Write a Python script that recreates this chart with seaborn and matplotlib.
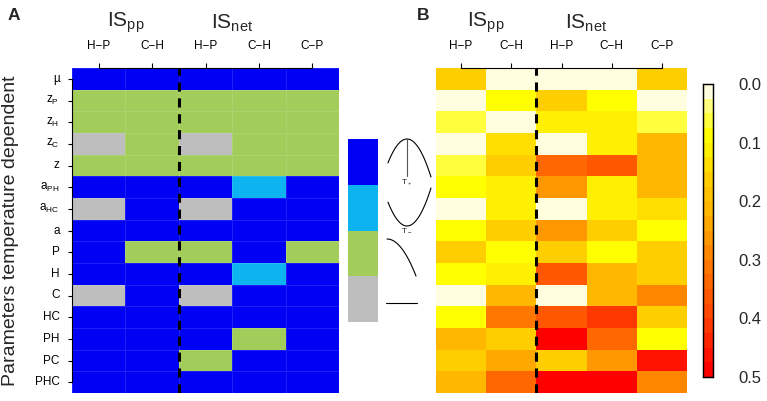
import numpy as np
import pandas as pd
import matplotlib
matplotlib.use("Agg")
import matplotlib.pyplot as plt
from matplotlib.colors import ListedColormap, LinearSegmentedColormap
import seaborn as sns

sns.set_style("white")
plt.rcParams['font.family'] = ['Liberation Sans', 'DejaVu Sans']
plt.rcParams['mathtext.fontset'] = 'custom'
plt.rcParams['mathtext.rm'] = 'Liberation Sans'

# === Data ===
params = ['µ', r'$\mathrm{z_P}$', r'$\mathrm{z_H}$', r'$\mathrm{z_C}$', 'z',
          r'$\mathrm{a_{PH}}$', r'$\mathrm{a_{HC}}$', 'a', 'P', 'H', 'C',
          'HC', 'PH', 'PC', 'PHC']
pairs = ['H\u2212P', 'C\u2212H', 'H\u2212P', 'C\u2212H', 'C\u2212P']
groups = [r'$\mathrm{IS_{pp}}$', r'$\mathrm{IS_{net}}$']

# response type: 0 = hump (T+), 1 = U (T-), 2 = decreasing, 3 = constant
response = [
    [0, 0, 0, 0, 0],
    [2, 2, 2, 2, 2],
    [2, 2, 2, 2, 2],
    [3, 2, 3, 2, 2],
    [2, 2, 2, 2, 2],
    [0, 0, 0, 1, 0],
    [3, 0, 3, 0, 0],
    [0, 0, 0, 0, 0],
    [0, 2, 2, 0, 2],
    [0, 0, 0, 1, 0],
    [3, 0, 3, 0, 0],
    [0, 0, 0, 0, 0],
    [0, 0, 0, 2, 0],
    [0, 0, 2, 0, 0],
    [0, 0, 0, 0, 0],
]

sensitivity = [
    [0.15, 0.00, 0.00, 0.00, 0.15],
    [0.01, 0.08, 0.15, 0.09, 0.01],
    [0.05, 0.01, 0.12, 0.12, 0.05],
    [0.01, 0.13, 0.01, 0.12, 0.20],
    [0.05, 0.15, 0.33, 0.37, 0.20],
    [0.09, 0.10, 0.25, 0.10, 0.22],
    [0.01, 0.10, 0.01, 0.10, 0.13],
    [0.09, 0.15, 0.25, 0.15, 0.08],
    [0.17, 0.08, 0.15, 0.08, 0.15],
    [0.08, 0.10, 0.37, 0.20, 0.15],
    [0.01, 0.21, 0.01, 0.20, 0.29],
    [0.08, 0.30, 0.37, 0.42, 0.15],
    [0.21, 0.15, 0.50, 0.33, 0.08],
    [0.15, 0.24, 0.15, 0.25, 0.45],
    [0.20, 0.33, 0.50, 0.48, 0.29],
]

cbar_ticks = [0.0, 0.1, 0.2, 0.3, 0.4, 0.5]

type_colors = ['#0000F5', '#0DB3EE', '#A3CD5A', '#BEBEBE']
type_cmap = ListedColormap(type_colors)
heat_cmap = LinearSegmentedColormap.from_list(
    'heat', [(0.0, '#FFFFE0'), (0.06, '#FFFF70'), (0.16, '#FFFF00'),
             (0.30, '#FFD200'), (0.45, '#FFB000'), (0.60, '#FF8000'),
             (0.80, '#FF4600'), (1.0, '#FF0000')], N=20)

df_a = pd.DataFrame(response, index=params, columns=range(5))
df_b = pd.DataFrame(sensitivity, index=params, columns=range(5))

W, H = 767, 401
fig = plt.figure(figsize=(W / 100, H / 100), dpi=100)


def px_axes(x0, y0, x1, y1):
    return fig.add_axes([x0 / W, 1 - y1 / H, (x1 - x0) / W, (y1 - y0) / H])


def style_top(ax, label_left):
    ax.xaxis.tick_top()
    ax.set_xticks(np.arange(5) + 0.5)
    ax.set_xticklabels(pairs, fontsize=8.5, rotation=0)
    ax.tick_params(axis='x', length=3.5, width=0.8, pad=8, colors='black')
    ax.spines['top'].set_visible(True)
    ax.spines['top'].set_bounds(0.5, 4.5)
    ax.spines['top'].set_linewidth(0.8)
    ax.spines['top'].set_color('black')
    for s in ['right', 'bottom']:
        ax.spines[s].set_visible(False)
    if label_left:
        ax.spines['left'].set_visible(True)
        ax.spines['left'].set_bounds(0.5, 14.5)
        ax.spines['left'].set_linewidth(0.8)
        ax.spines['left'].set_color('black')
        ax.set_yticks(np.arange(15) + 0.5)
        ax.set_yticklabels(params, fontsize=8.5, rotation=0)
        ax.tick_params(axis='y', length=3, width=0.8, pad=6, left=True, colors='black')
    else:
        ax.spines['left'].set_visible(False)
        ax.set_yticks([])
    ax.set_xlabel('')
    ax.set_ylabel('')
    ax.axvline(2, color='black', lw=2.2, ls=(0, (3, 2.2)))
    ax.text(1.0, -2.1, groups[0], ha='center', va='center', fontsize=15,
            transform=ax.transData, clip_on=False)
    ax.text(3.0, -2.05, groups[1], ha='center', va='center', fontsize=15,
            transform=ax.transData, clip_on=False)


# === Panel A ===
ax_a = px_axes(72, 68, 339, 393)
sns.heatmap(df_a, ax=ax_a, cmap=type_cmap, vmin=-0.5, vmax=3.5, cbar=False,
            linewidths=0.6, linecolor=(1, 1, 1, 0.12))
style_top(ax_a, True)
fig.text(11 / W, 1 - 231 / H, 'Parameters temperature dependent', rotation=90,
         ha='center', va='center', fontsize=14)
fig.text(14 / W, 1 - 15 / H, 'A', ha='center', va='center', fontsize=12.5,
         fontweight='bold')

# === Legend of response types ===
ax_leg = px_axes(348, 139, 378, 322)
sns.heatmap(pd.DataFrame({'t': range(4)}), ax=ax_leg, cmap=type_cmap,
            vmin=-0.5, vmax=3.5, cbar=False, xticklabels=False, yticklabels=False)

ax_ic = px_axes(380, 130, 440, 330)
ax_ic.set_xlim(380, 440)
ax_ic.set_ylim(330, 130)
ax_ic.axis('off')
xs = np.linspace(388, 431, 40)
ax_ic.plot(xs, 139 + 0.066 * (xs - 407) ** 2, color='black', lw=0.8)
ax_ic.plot([407, 407], [139, 176], color='#555555', lw=0.8)
ax_ic.text(407, 177, r'T$_+$', ha='center', va='top', fontsize=6)
ax_ic.plot(xs, 226 - 0.066 * (xs - 407) ** 2, color='black', lw=0.8)
ax_ic.text(407, 226, r'T$_-$', ha='center', va='top', fontsize=6)
xd = np.linspace(387, 416, 30)
ax_ic.plot(xd, 239 + 0.044 * (xd - 387) ** 2, color='black', lw=0.8)
ax_ic.plot([386, 417], [303, 303], color='black', lw=0.8)

# === Panel B ===
ax_b = px_axes(436, 68, 687, 393)
ax_cb = px_axes(703, 84, 713, 377)
sns.heatmap(df_b, ax=ax_b, cmap=heat_cmap, vmin=0, vmax=0.5, cbar_ax=ax_cb)
style_top(ax_b, False)
fig.text(423 / W, 1 - 15 / H, 'B', ha='center', va='center', fontsize=12.5,
         fontweight='bold')

ax_cb.invert_yaxis()
ax_cb.set_yticks(cbar_ticks)
ax_cb.set_yticklabels([f'{t:.1f}' for t in cbar_ticks], fontsize=12)
ax_cb.tick_params(length=0, pad=18)
for s in ax_cb.spines.values():
    s.set_visible(True)
    s.set_color('black')
    s.set_linewidth(0.9)

fig.savefig('out.png', dpi=100)
